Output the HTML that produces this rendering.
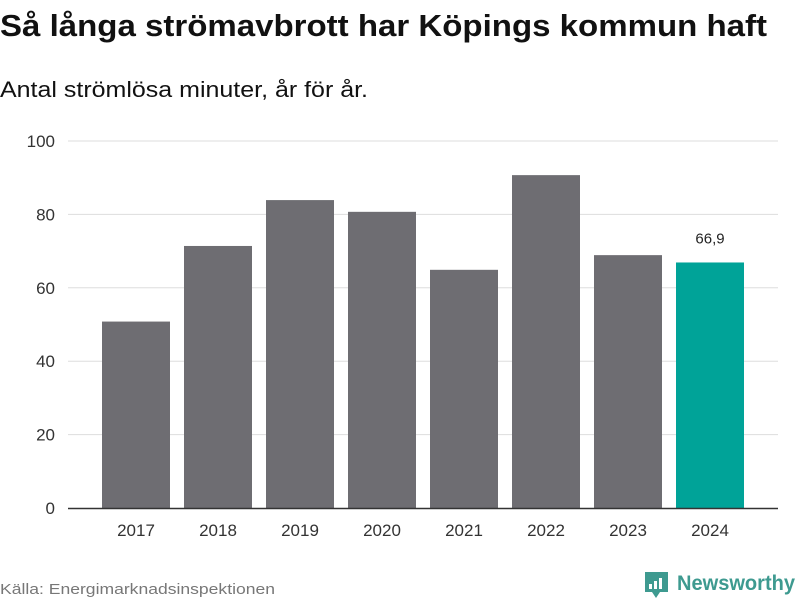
<!DOCTYPE html>
<html><head><meta charset="utf-8"><style>
body{margin:0;width:800px;height:600px;background:#fff;font-family:"Liberation Sans",sans-serif;overflow:hidden}
</style></head><body>
<svg id="c" width="800" height="600">
<text x="0" y="36" font-size="31" font-weight="bold" fill="#111" textLength="767" lengthAdjust="spacingAndGlyphs">Så långa strömavbrott har Köpings kommun haft</text>
<text x="0" y="97" font-size="22" fill="#111" textLength="368" lengthAdjust="spacingAndGlyphs">Antal strömlösa minuter, år för år.</text>
<g id="grid"></g><g id="bars"></g>
<line x1="68" x2="778" y1="508.5" y2="508.5" stroke="#333" stroke-width="1.5"/>
<text x="0" y="594" font-size="15" fill="#777" textLength="275" lengthAdjust="spacingAndGlyphs">Källa: Energimarknadsinspektionen</text>
<g>
<path d="M645 572h23v20h-8l-4 6-4-6h-7z" fill="#3e9a90"/>
<rect x="649" y="584" width="3" height="5" fill="#fff"/><rect x="654" y="581" width="3" height="8" fill="#fff"/><rect x="659" y="578" width="3" height="11" fill="#fff"/>
<text x="677" y="590" font-size="21" font-weight="bold" fill="#3e9a90" textLength="118" lengthAdjust="spacingAndGlyphs">Newsworthy</text>
</g>
</svg>
<script>
const years=["2017","2018","2019","2020","2021","2022","2023","2024"];
const values=[50.8,71.4,83.9,80.7,64.9,90.7,68.9,66.9];
const yTicks=[0,20,40,60,80,100];
const ns="http://www.w3.org/2000/svg";
const y=v=>508-v*3.67;
const x=i=>136+i*82;
const g=document.getElementById('grid'),b=document.getElementById('bars');
function mk(t,a,p){const e=document.createElementNS(ns,t);for(const k in a)e.setAttribute(k,a[k]);p.appendChild(e);return e;}
yTicks.forEach(t=>{
 if(t>0){const l=mk('line',{x1:68,x2:778,y1:y(t),y2:y(t),stroke:'#ddd'},g);
 
 }
 const tx=mk('text',{x:55,y:y(t)+6,'font-size':17,fill:'#333','text-anchor':'end'},g);tx.textContent=t;
 
 
});
years.forEach((yr,i)=>{
 const last=i===years.length-1;
 const r=mk('rect',{x:x(i)-34,y:y(values[i]),width:68,height:508-y(values[i]),fill:last?'#00a398':'#6e6d72'},b);
 
 
 const t=mk('text',{x:x(i),y:536,'font-size':17,fill:'#333','text-anchor':'middle'},b);t.textContent=yr;
 
 
 if(last){const v=mk('text',{x:x(i),y:y(values[i])-19,'font-size':15,fill:'#222','text-anchor':'middle'},b);v.textContent=String(values[i]).replace('.',',');
 
 }
});
</script>
</body></html>
